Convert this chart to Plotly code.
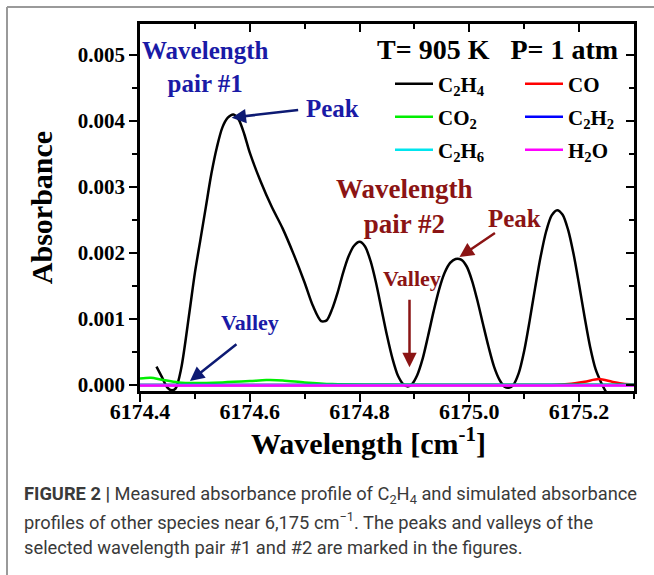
import plotly.graph_objects as go

# ---------------- data ----------------
c2h4_x = [6174.430, 6174.440, 6174.450, 6174.458, 6174.465, 6174.475, 6174.490, 6174.500,
          6174.510, 6174.520, 6174.530, 6174.540, 6174.550, 6174.560, 6174.570, 6174.580,
          6174.590, 6174.600, 6174.620, 6174.640, 6174.660, 6174.680, 6174.700, 6174.715,
          6174.730, 6174.740, 6174.750, 6174.760, 6174.770, 6174.780, 6174.790, 6174.800,
          6174.810, 6174.820, 6174.830, 6174.840, 6174.850, 6174.860, 6174.870, 6174.880,
          6174.888, 6174.895, 6174.905, 6174.915, 6174.925, 6174.935, 6174.945, 6174.955,
          6174.965, 6174.975, 6174.985, 6174.995, 6175.005, 6175.015, 6175.025, 6175.035,
          6175.045, 6175.055, 6175.065, 6175.072, 6175.080, 6175.090, 6175.100, 6175.110,
          6175.120, 6175.130, 6175.140, 6175.150, 6175.160, 6175.170, 6175.180, 6175.190,
          6175.200, 6175.210, 6175.220, 6175.230, 6175.240, 6175.250]
c2h4_y = [0.00028, 0.00012, -0.00004, -0.00008, -0.00005, 0.00025, 0.00110, 0.00170,
          0.00220, 0.00270, 0.00320, 0.00360, 0.00390, 0.00405, 0.00410, 0.00402,
          0.00380, 0.00352, 0.00308, 0.00270, 0.00237, 0.00198, 0.00155, 0.00120,
          0.00097, 0.00098, 0.00115, 0.00140, 0.00170, 0.00195, 0.00211, 0.00217,
          0.00210, 0.00188, 0.00155, 0.00115, 0.00075, 0.00040, 0.00014, 0.00001,
          -0.00002, 0.00001, 0.00015, 0.00040, 0.00075, 0.00112, 0.00145, 0.00170,
          0.00185, 0.00191, 0.00190, 0.00180, 0.00158, 0.00127, 0.00092, 0.00058,
          0.00028, 0.00008, -0.00003, -0.00004, 0.00000, 0.00018, 0.00052, 0.00098,
          0.00148, 0.00195, 0.00233, 0.00257, 0.00265, 0.00258, 0.00235, 0.00198,
          0.00152, 0.00103, 0.00058, 0.00024, 0.00004, -0.00012]

co_x = [6174.40, 6174.80, 6175.10, 6175.15, 6175.18, 6175.21, 6175.236, 6175.26, 6175.28, 6175.30]
co_y = [0.0, 0.0, 0.0, 0.000002, 0.000015, 0.00005, 0.00009, 0.00005, 0.00002, 0.00001]

co2_x = [6174.40, 6174.42, 6174.44, 6174.47, 6174.50, 6174.55, 6174.60, 6174.63, 6174.66,
         6174.70, 6174.75, 6174.85, 6175.00, 6175.30]
co2_y = [0.00010, 0.00011, 0.00008, 0.00004, 0.00003, 0.00004, 0.00006, 0.000075, 0.00007,
         0.00004, 0.000015, 0.000008, 0.000005, 0.000005]

flat_x = [6174.40, 6175.30]
c2h2_y = [0.0, 0.0]
c2h6_y = [0.0, 0.0]
h2o_y = [-0.000005, -0.000005]

x_range = [6174.4, 6175.3]
y_range = [-0.00009, 0.00547]
x_ticks = [6174.4, 6174.6, 6174.8, 6175.0, 6175.2]
y_ticks = [0.000, 0.001, 0.002, 0.003, 0.004, 0.005]

# ---------------- figure ----------------
SERIF = "Liberation Serif, Times New Roman, serif"
W, H = 654, 575
L, R, T, B = 140, 20, 24, 184
pw, ph = W - L - R, H - T - B

def px2paper(px, py):
    return (px - L) / pw, (H - B - py) / ph

fig = go.Figure()
# (name, x, y, color, legend id, legend position in px: line start x, row y)
series = [
    ("C<sub>2</sub>H<sub>4</sub>", c2h4_x, c2h4_y, "black", "legend", (395, 84)),
    ("CO", co_x, co_y, "#ff0000", "legend2", (525, 84)),
    ("CO<sub>2</sub>", co2_x, co2_y, "#00ee00", "legend3", (395, 117)),
    ("C<sub>2</sub>H<sub>2</sub>", flat_x, c2h2_y, "#0000ff", "legend4", (525, 117)),
    ("C<sub>2</sub>H<sub>6</sub>", flat_x, c2h6_y, "#00e5ee", "legend5", (395, 150)),
    ("H<sub>2</sub>O", flat_x, h2o_y, "#ff00ff", "legend6", (525, 150)),
]
legends = {}
for name, xs, ys, col, lg, (lpx, lpy) in series:
    fig.add_trace(go.Scatter(x=xs, y=ys, name=name, mode="lines",
                             line=dict(color=col, width=2.5, shape="spline", smoothing=0.8),
                             legend=lg))
    lx, ly = px2paper(lpx - 5, lpy)
    legends[lg] = dict(x=lx, y=ly, xanchor="left", yanchor="middle", orientation="v",
                       font=dict(family=SERIF, size=21, color="black", weight="bold"),
                       bgcolor="rgba(0,0,0,0)", borderwidth=0, itemwidth=38)

axis_common = dict(showline=True, linecolor="black", linewidth=2.5, showgrid=False,
                   zeroline=False, tickcolor="black", tickwidth=2)
fig.update_xaxes(range=x_range, tickvals=x_ticks, tickformat=".1f", ticks="outside", ticklen=8,
                 ticklabelstandoff=-9,
                 minor=dict(dtick=0.1, tick0=6174.4, ticks="outside", ticklen=5, tickwidth=2, tickcolor="black"),
                 tickfont=dict(family=SERIF, size=22, color="black", weight="bold"),
                 **axis_common)
fig.update_yaxes(range=y_range, tickvals=y_ticks, tickformat=".3f", ticks="outside", ticklen=8,
                 minor=dict(dtick=0.0005, tick0=0, ticks="outside", ticklen=5, tickwidth=2, tickcolor="black"),
                 tickfont=dict(family=SERIF, size=21, color="black", weight="bold"),
                 title=dict(text="Absorbance", font=dict(family=SERIF, size=30, color="black", weight="bold"),
                            standoff=17),
                 **axis_common)

# mirrored axes with inward ticks
fig.update_layout(
    xaxis2=dict(overlaying="x", side="top", matches="x", range=x_range, tickvals=x_ticks,
                showticklabels=False, ticks="inside", ticklen=8,
                minor=dict(dtick=0.1, tick0=6174.4, ticks="inside", ticklen=5, tickwidth=2, tickcolor="black"),
                **axis_common),
    yaxis2=dict(overlaying="y", side="right", matches="y", range=y_range, tickvals=y_ticks,
                showticklabels=False, ticks="inside", ticklen=8,
                minor=dict(dtick=0.0005, tick0=0, ticks="inside", ticklen=5, tickwidth=2, tickcolor="black"),
                **axis_common),
)
fig.add_trace(go.Scatter(x=[None], y=[None], xaxis="x2", yaxis="y2", showlegend=False, hoverinfo="skip"))
fig.update_layout(**legends)

BLUE = "#1a1aa6"
BLUE_ARROW = "#0d1a73"
RED = "#8b1414"
ann = []
def text_ann(x, y, text, color, size):
    ann.append(dict(x=x, y=y, xref="x", yref="y", text=text, showarrow=False,
                    font=dict(family=SERIF, size=size, color=color, weight="bold"), align="center"))
def arrow_ann(x, y, ax, ay, color):
    ann.append(dict(x=x, y=y, xref="x", yref="y", text="", showarrow=True, ax=ax, ay=ay,
                    arrowhead=2, arrowsize=1.15, arrowwidth=2.5, arrowcolor=color))

text_ann(6174.518, 0.00482, "Wavelength<br>pair #1", BLUE, 25)
text_ann(6174.751, 0.00419, "Peak", BLUE, 25)
text_ann(6174.600, 0.00095, "Valley", BLUE, 22)
text_ann(6174.882, 0.00270, "Wavelength<br>pair #2", RED, 27)
text_ann(6175.082, 0.00253, "Peak", RED, 25)
text_ann(6174.896, 0.00161, "Valley", RED, 22)
text_ann(6175.052, 0.00508, "T= 905 K   P= 1 atm", "black", 28)
arrow_ann(6174.567, 0.00405, 68, -8, BLUE_ARROW)
arrow_ann(6174.491, 0.00006, 48, -38, BLUE_ARROW)
arrow_ann(6174.982, 0.00194, 37, -25, RED)
arrow_ann(6174.891, 0.00027, 0, -69, RED)

# x-axis title (placed as in the original, slightly left of centre)
tx, ty = px2paper(368, 441)
ann.append(dict(x=tx, y=ty, xref="paper", yref="paper", text="Wavelength [cm<sup>-1</sup>]",
                showarrow=False, xanchor="center", yanchor="middle",
                font=dict(family=SERIF, size=30, color="black", weight="bold")))

# caption
CAP = "Roboto, Liberation Sans, Arial, sans-serif"
cap_lines = [
    "<b>FIGURE 2 |</b> Measured absorbance profile of C<sub>2</sub>H<sub>4</sub> and simulated absorbance",
    "profiles of other species near 6,175 cm<sup>\u22121</sup>. The peaks and valleys of the",
    "selected wavelength pair #1 and #2 are marked in the figures.",
]
for i, line in enumerate(cap_lines):
    cx, cy = px2paper(22, 495 + 26 * i)
    ann.append(dict(x=cx, y=cy, xref="paper", yref="paper", text=line, showarrow=False,
                    xanchor="left", yanchor="middle", align="left",
                    font=dict(family=CAP, size=18.3, color="#3a3a3a")))
fig.update_layout(annotations=ann)

# outer gray frame (left + top)
x0, y0 = px2paper(7, 575)
x1, y1 = px2paper(7, 7)
x2, _ = px2paper(654, 7)
fig.update_layout(shapes=[
    dict(type="line", xref="paper", yref="paper", x0=x0, y0=y0, x1=x1, y1=y1,
         line=dict(color="#9a9a9a", width=2)),
    dict(type="line", xref="paper", yref="paper", x0=x1, y0=y1, x1=x2, y1=y1,
         line=dict(color="#9a9a9a", width=2)),
])

fig.update_layout(width=W, height=H, margin=dict(l=L, r=R, t=T, b=B),
                  paper_bgcolor="white", plot_bgcolor="white", showlegend=True)
fig.write_html("out.html")
